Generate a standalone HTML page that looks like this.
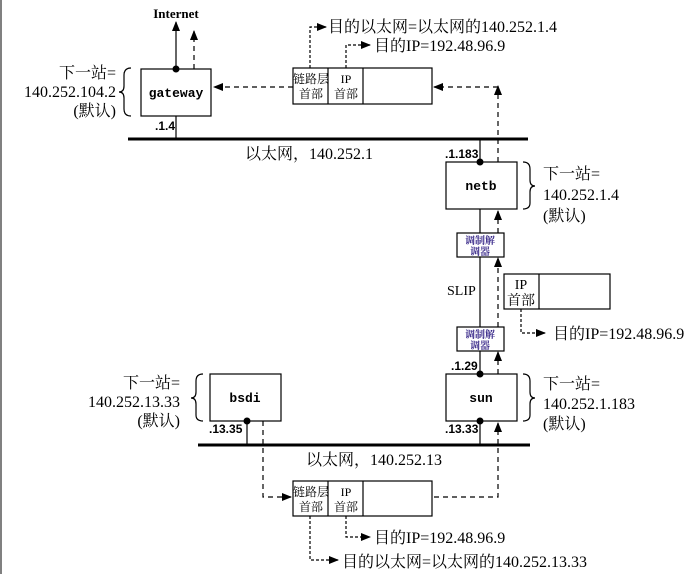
<!DOCTYPE html>
<html><head><meta charset="utf-8"><style>
html,body{margin:0;padding:0;background:#fff;}
svg{display:block;}
text{font-family:"Liberation Serif","Noto Serif CJK SC","Noto Sans CJK SC",serif;fill:#000;}
.m{font-family:"Liberation Mono",monospace;font-weight:bold;font-size:13px;}
.b{font-family:"Liberation Sans",sans-serif;font-weight:bold;font-size:12px;}
</style></head><body>
<svg width="691" height="574" viewBox="0 0 691 574" xmlns="http://www.w3.org/2000/svg">
<defs>
<marker id="a" markerWidth="10" markerHeight="8" refX="9" refY="4" orient="auto" markerUnits="userSpaceOnUse"><path d="M0,0 L10,4 L0,8 z" fill="#000"/></marker>
</defs>
<line x1="1" y1="0" x2="1" y2="574" stroke="#000" stroke-width="1"/>
<g stroke="#000" fill="none" stroke-width="1.2">
<rect x="141" y="69" width="70" height="47" fill="#fff"/>
<line x1="176" y1="69" x2="176" y2="22" marker-end="url(#a)"/>
<line x1="194" y1="69" x2="194" y2="31" stroke-dasharray="5,4" marker-end="url(#a)"/>
<line x1="176" y1="116" x2="176" y2="139"/>
<line x1="128" y1="139" x2="528" y2="139" stroke-width="3"/>
<rect x="293" y="68" width="139" height="36" fill="#fff"/>
<line x1="328" y1="68" x2="328" y2="104"/><line x1="363" y1="68" x2="363" y2="104"/>
<line x1="293" y1="87" x2="214" y2="87" stroke-dasharray="5,4" marker-end="url(#a)"/>
<polyline points="498,162 498,86" stroke-dasharray="5,4" marker-end="url(#a)"/>
<polyline points="498,87 434,87" stroke-dasharray="5,4" marker-end="url(#a)"/>
<polyline points="310,68 310,27 326,27" stroke-dasharray="3,2" marker-end="url(#a)"/>
<polyline points="346,68 346,45 370,45" stroke-dasharray="3,2" marker-end="url(#a)"/>
<rect x="446" y="162" width="71" height="47" fill="#fff"/>
<line x1="480" y1="162" x2="480" y2="139"/>
<line x1="480" y1="209" x2="480" y2="374"/>
<line x1="498" y1="233" x2="498" y2="211" stroke-dasharray="5,4" marker-end="url(#a)"/>
<line x1="498" y1="327" x2="498" y2="258" stroke-dasharray="5,4" marker-end="url(#a)"/>
<line x1="498" y1="374" x2="498" y2="352" stroke-dasharray="5,4" marker-end="url(#a)"/>
<rect x="457" y="233" width="47" height="24" fill="#fff"/>
<rect x="457" y="327" width="47" height="24" fill="#fff"/>
<rect x="504" y="274" width="106" height="35" fill="#fff"/>
<line x1="539" y1="274" x2="539" y2="309"/>
<polyline points="521,309 521,333 545,333" stroke-dasharray="3,2" marker-end="url(#a)"/>
<rect x="446" y="374" width="71" height="47" fill="#fff"/>
<line x1="480" y1="421" x2="480" y2="445"/>
<rect x="210" y="374" width="71" height="47" fill="#fff"/>
<line x1="247" y1="421" x2="247" y2="445"/>
<line x1="198" y1="445" x2="530" y2="445" stroke-width="3"/>
<rect x="293" y="481" width="139" height="35" fill="#fff"/>
<line x1="328" y1="481" x2="328" y2="516"/><line x1="363" y1="481" x2="363" y2="516"/>
<polyline points="263,421 263,497 291,497" stroke-dasharray="5,4" marker-end="url(#a)"/>
<polyline points="434,497 498,497 498,423" stroke-dasharray="5,4" marker-end="url(#a)"/>
<polyline points="346,516 346,537 370,537" stroke-dasharray="3,2" marker-end="url(#a)"/>
<polyline points="310,516 310,560 338,560" stroke-dasharray="3,2" marker-end="url(#a)"/>
<path d="M131,68 Q124,68 124,75 L124,86 Q124,92 119,92 Q124,92 124,98 L124,109 Q124,116 131,116"/>
<path d="M523,162 Q530,162 530,169 L530,180 Q530,186 535,186 Q530,186 530,192 L530,203 Q530,209 523,209"/>
<path d="M523,374 Q530,374 530,381 L530,392 Q530,398 535,398 Q530,398 530,404 L530,415 Q530,421 523,421"/>
<path d="M203,374 Q196,374 196,381 L196,392 Q196,398 191,398 Q196,398 196,404 L196,415 Q196,421 203,421"/>
</g>
<g fill="#000">
<circle cx="176" cy="69" r="3.5"/><circle cx="480" cy="162" r="3.5"/>
<circle cx="480" cy="374" r="3.5"/><circle cx="480" cy="421" r="3.5"/>
<circle cx="247" cy="421" r="3.5"/>
</g>
<text x="176" y="18" text-anchor="middle" font-size="13" font-weight="bold">Internet</text>
<text class="m" x="176" y="97" text-anchor="middle">gateway</text>
<text class="m" x="481" y="190" text-anchor="middle">netb</text>
<text class="m" x="481" y="402" text-anchor="middle">sun</text>
<text class="m" x="245" y="402" text-anchor="middle">bsdi</text>
<text class="b" x="155" y="130">.1.4</text>
<text class="b" x="445" y="158">.1.183</text>
<text class="b" x="451" y="370">.1.29</text>
<text class="b" x="445" y="433">.13.33</text>
<text class="b" x="209" y="433">.13.35</text>
<text font-family="Liberation Sans" font-size="14" x="447" y="295">SLIP</text>
<text font-size="16" x="245" y="159">以太网，140.252.1</text>
<text font-size="16" x="306" y="465">以太网，140.252.13</text>
<g font-size="16">
<text x="116" y="78" text-anchor="end">下一站=</text>
<text x="116" y="97" text-anchor="end">140.252.104.2</text>
<text x="116" y="116" text-anchor="end">(默认)</text>
<text x="543" y="179">下一站=</text><text x="543" y="200">140.252.1.4</text><text x="543" y="221">(默认)</text>
<text x="543" y="389">下一站=</text><text x="543" y="409">140.252.1.183</text><text x="543" y="429">(默认)</text>
<text x="180" y="388" text-anchor="end">下一站=</text><text x="180" y="407" text-anchor="end">140.252.13.33</text><text x="180" y="426" text-anchor="end">(默认)</text>
<text x="328" y="32">目的以太网=以太网的140.252.1.4</text>
<text x="374" y="51">目的IP=192.48.96.9</text>
<text x="553" y="339">目的IP=192.48.96.9</text>
<text x="374" y="543">目的IP=192.48.96.9</text>
<text x="342" y="567">目的以太网=以太网的140.252.13.33</text>
</g>
<g font-size="12" text-anchor="middle">
<text x="311" y="83">链路层</text><text x="311" y="98">首部</text>
<text x="346" y="83">IP</text><text x="346" y="98">首部</text>
<text x="311" y="496">链路层</text><text x="311" y="511">首部</text>
<text x="346" y="496">IP</text><text x="346" y="511">首部</text>
</g>
<g font-size="14" text-anchor="middle">
<text x="521" y="289">IP</text><text x="521" y="305">首部</text>
</g>
<g font-size="10" text-anchor="middle" font-weight="bold">
<text x="480" y="244" style="fill:#3a2a8a">调制解</text><text x="480" y="255" style="fill:#3a2a8a">调器</text>
<text x="480" y="338" style="fill:#3a2a8a">调制解</text><text x="480" y="349" style="fill:#3a2a8a">调器</text>
</g>
</svg>
</body></html>
